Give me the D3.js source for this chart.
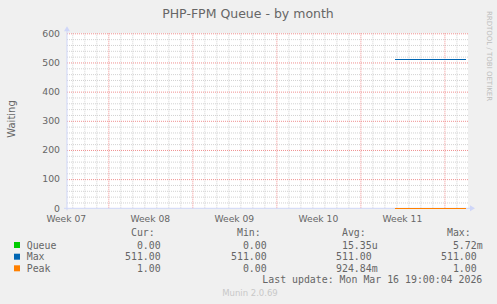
<!DOCTYPE html>
<html>
<head>
<meta charset="utf-8">
<script src="https://cdn.jsdelivr.net/npm/d3@7"></script>
<style>
  html, body { margin: 0; padding: 0; background: #f0f0f0; }
  svg { display: block; }
  text { font-family: "DejaVu Sans", sans-serif; fill: #666; }
  .mono { font-family: "DejaVu Sans Mono", monospace; white-space: pre; }
</style>
</head>
<body>
<div id="chart"></div>
<script>
// series samples (only the last few days hold data)
const sampleTimes = ["2026-03-11T21:00", "2026-03-12T12:00", "2026-03-13T12:00", "2026-03-14T12:00",
                     "2026-03-15T12:00", "2026-03-16T12:00", "2026-03-17T19:00"];
const queueValues = [0, 0, 0, 0, 0, 0, 0];
const maxValues = [511, 511, 511, 511, 511, 511, 511];
const peakValues = [1, 1, 1, 1, 1, 1, 1];

const seriesNames = ["Queue", "Max", "Peak"];
const seriesColors = ["#00cc00", "#0066b3", "#ff8000"];

// legend table
const legendHeaders = ["Cur:", "Min:", "Avg:", "Max:"];
const curCol = ["0.00", "511.00", "1.00"];
const minCol = ["0.00", "511.00", "0.00"];
const avgCol = ["15.35u", "511.00", "924.84m"];
const maxCol = ["5.72m", "511.00", "1.00"];

const yTicks = [0, 100, 200, 300, 400, 500, 600];
const timeRange = ["2026-02-12T13:25", "2026-03-17T23:10"];

const W = 497, H = 304;
const plot = {left: 67, right: 468, top: 33.3, bottom: 208.3};
const axisColor = "#cfd6f8";

const parse = d3.timeParse("%Y-%m-%dT%H:%M");
const times = sampleTimes.map(parse);

const svg = d3.select("#chart").append("svg")
    .attr("width", W)
    .attr("height", H);

svg.append("rect").attr("width", W).attr("height", H).attr("fill", "#f0f0f0");
svg.append("rect")
    .attr("x", plot.left).attr("y", plot.top)
    .attr("width", plot.right - plot.left).attr("height", plot.bottom - plot.top)
    .attr("fill", "#ffffff");

const x = d3.scaleTime()
    .domain(timeRange.map(parse))
    .range([plot.left, plot.right]);
const y = d3.scaleLinear()
    .domain([0, 600])
    .range([plot.bottom, plot.top]);

const weeks = d3.timeMonday.range(x.domain()[0], x.domain()[1]);
const isWeek = d => d.getDay() === 1;

// minor grid (days / 20s), skipping where a major line sits
const minorX = d3.timeDay.range(x.domain()[0], x.domain()[1]).filter(d => !isWeek(d));
const minorY = d3.range(0, 601, 20).filter(v => v % 100 !== 0);
const minorColor = "#d2d2d2";
const majorColor = "#f09090";

svg.append("g")
    .attr("transform", `translate(0,${plot.bottom})`)
    .call(d3.axisBottom(x).tickValues(minorX).tickSize(-(plot.bottom - plot.top)).tickFormat(""))
    .call(g => g.select(".domain").remove())
    .call(g => g.selectAll("line").attr("stroke", minorColor).attr("stroke-dasharray", "1,1"));
svg.append("g")
    .attr("transform", `translate(${plot.left},0)`)
    .call(d3.axisLeft(y).tickValues(minorY).tickSize(-(plot.right - plot.left)).tickFormat(""))
    .call(g => g.select(".domain").remove())
    .call(g => g.selectAll("line").attr("stroke", minorColor).attr("stroke-dasharray", "1,1"));

// major grid (weeks / hundreds)
svg.append("g")
    .attr("transform", `translate(0,${plot.bottom})`)
    .call(d3.axisBottom(x).tickValues(weeks).tickSize(-(plot.bottom - plot.top)).tickFormat(""))
    .call(g => g.select(".domain").remove())
    .call(g => g.selectAll("line").attr("stroke", majorColor).attr("stroke-dasharray", "1,1"));
svg.append("g")
    .attr("transform", `translate(${plot.left},0)`)
    .call(d3.axisLeft(y).tickValues(yTicks.filter(v => v > 0)).tickSize(-(plot.right - plot.left)).tickFormat(""))
    .call(g => g.select(".domain").remove())
    .call(g => g.selectAll("line").attr("stroke", majorColor).attr("stroke-dasharray", "1,1"));

// axes lines + arrows
svg.append("line")
    .attr("x1", plot.left - 3).attr("x2", plot.right + 2)
    .attr("y1", plot.bottom).attr("y2", plot.bottom)
    .attr("stroke", axisColor);
svg.append("line")
    .attr("x1", plot.left).attr("x2", plot.left)
    .attr("y1", plot.bottom + 2).attr("y2", plot.top - 3)
    .attr("stroke", axisColor);
svg.append("path")
    .attr("d", `M${plot.right + 2},${plot.bottom - 3}L${plot.right + 7},${plot.bottom}L${plot.right + 2},${plot.bottom + 3}Z`)
    .attr("fill", axisColor);
svg.append("path")
    .attr("d", `M${plot.left - 3},${plot.top - 2}L${plot.left},${plot.top - 7}L${plot.left + 3},${plot.top - 2}Z`)
    .attr("fill", axisColor);

// y tick labels
svg.append("g")
    .attr("transform", `translate(${plot.left},0)`)
    .call(d3.axisLeft(y).tickValues(yTicks).tickSize(0).tickPadding(7))
    .call(g => g.select(".domain").remove())
    .call(g => g.selectAll("text")
        .attr("fill", "#666")
        .attr("dy", "0.3em")
        .style("font-family", "DejaVu Sans")
        .style("font-size", "9.3px"));

// week labels, centred mid-week
const weekLabels = d3.timeMonday.range(d3.timeDay.offset(x.domain()[0], -4), x.domain()[1])
    .filter(d => x(d3.timeHour.offset(d, 84)) > 60 && x(d3.timeHour.offset(d, 84)) < plot.right);
svg.append("g")
    .selectAll("text")
    .data(weekLabels)
    .join("text")
        .attr("x", d => x(d3.timeHour.offset(d, 84)))
        .attr("y", 221.5)
        .attr("text-anchor", "middle")
        .style("font-size", "9.2px")
        .text(d => "Week " + d3.timeFormat("%V")(d));

// series
const line = d3.line()
    .x((d, i) => x(times[i]))
    .y(d => y(d));
[queueValues, maxValues, peakValues].forEach((vals, i) => {
    svg.append("path")
        .datum(vals)
        .attr("fill", "none")
        .attr("stroke", seriesColors[i])
        .attr("stroke-width", 1)
        .attr("shape-rendering", "crispEdges")
        .attr("d", line);
});

// titles
svg.append("text")
    .attr("x", 248).attr("y", 18.3)
    .attr("text-anchor", "middle")
    .style("font-size", "12.5px")
    .text("PHP-FPM Queue - by month");
svg.append("text")
    .attr("transform", "translate(15,119) rotate(-90)")
    .attr("text-anchor", "middle")
    .style("font-size", "10px")
    .text("Waiting");
svg.append("text")
    .attr("transform", "translate(487,56) rotate(90)")
    .attr("text-anchor", "middle")
    .style("font-size", "7px")
    .style("fill", "#bdbdbd")
    .text("RRDTOOL / TOBI OETIKER");

// legend
const fs = 9.9;
const cw = fs * 0.602;
const numRight = [160.7, 266.7, 371.7, 476.7];
const rowBase = [248.6, 260.3, 271.9];
const legend = svg.append("g").attr("class", "mono").style("font-size", fs + "px");

legend.selectAll(".hdr")
    .data(legendHeaders)
    .join("text")
        .attr("class", "mono hdr")
        .attr("x", (d, i) => numRight[i] - cw)
        .attr("y", 236)
        .attr("text-anchor", "end")
        .text(d => d);

seriesNames.forEach((name, r) => {
    legend.append("rect")
        .attr("x", 14).attr("y", rowBase[r] - 6.6)
        .attr("width", 6).attr("height", 6)
        .attr("fill", seriesColors[r]);
    legend.append("text")
        .attr("class", "mono")
        .attr("x", 26.7).attr("y", rowBase[r])
        .text(name);
    [curCol, minCol, avgCol, maxCol].forEach((col, c) => {
        const v = col[r];
        const hasSuffix = /[a-zA-Z]$/.test(v);
        legend.append("text")
            .attr("class", "mono")
            .attr("x", numRight[c] + (hasSuffix ? cw : 0))
            .attr("y", rowBase[r])
            .attr("text-anchor", "end")
            .text(v);
    });
});

legend.append("text")
    .attr("class", "mono")
    .attr("x", 482.3).attr("y", 283.3)
    .attr("text-anchor", "end")
    .text("Last update: Mon Mar 16 19:00:04 2026");

svg.append("text")
    .attr("x", 250).attr("y", 296)
    .attr("text-anchor", "middle")
    .style("font-size", "8.5px")
    .style("fill", "#c8c8c8")
    .text("Munin 2.0.69");
</script>
</body>
</html>
